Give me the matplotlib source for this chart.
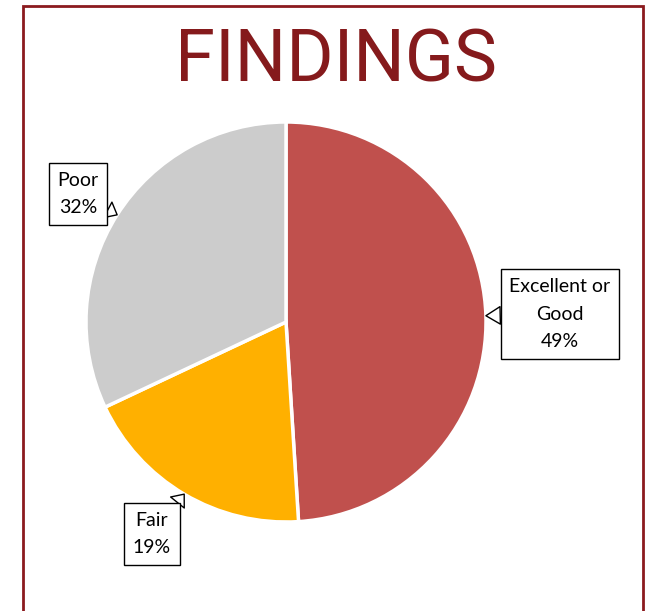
import numpy as np
import matplotlib.pyplot as plt
from matplotlib.patches import Rectangle

labels = ["Excellent or\nGood", "Fair", "Poor"]
values = [49, 19, 32]
colors = ["#C0504D", "#FFB000", "#CCCCCC"]
label_pos = [(1.37, 0.04), (-0.67, -1.06), (-1.04, 0.64)]

fig = plt.figure(figsize=(6.49, 6.11), dpi=100)
ax = fig.add_axes([6/649, 9/611, 560/649, 560/611])

wedges, _ = ax.pie(values, colors=colors, startangle=90, counterclock=False,
                   radius=1.0, wedgeprops=dict(edgecolor="white", linewidth=2.5))
ax.set_xlim(-1.4, 1.4)
ax.set_ylim(-1.4, 1.4)
ax.set_aspect("equal")
ax.axis("off")

for w, lab, val, pos in zip(wedges, labels, values, label_pos):
    ang = np.deg2rad((w.theta1 + w.theta2) / 2)
    tip = (np.cos(ang), np.sin(ang))
    ax.annotate(f"{lab}\n{val}%", xy=tip, xytext=pos, ha="center", va="center",
                fontsize=14, family="Lato", linespacing=1.75,
                bbox=dict(boxstyle="square,pad=0.45", fc="white", ec="black", lw=1),
                arrowprops=dict(arrowstyle="wedge,tail_width=0.9", fc="white",
                                ec="black", lw=1, shrinkA=0, shrinkB=0))

fig.text(336/649, 1 - 62/611, "FINDINGS", ha="center", va="center",
         fontsize=52, color="#851A1C", family="Roboto")

fig.patches.append(Rectangle((23/649, -0.1), 620/649, 1.1 - 6/611, transform=fig.transFigure,
                             fill=False, ec="#8B1A1E", lw=2))

fig.savefig("out.png", dpi=100)
